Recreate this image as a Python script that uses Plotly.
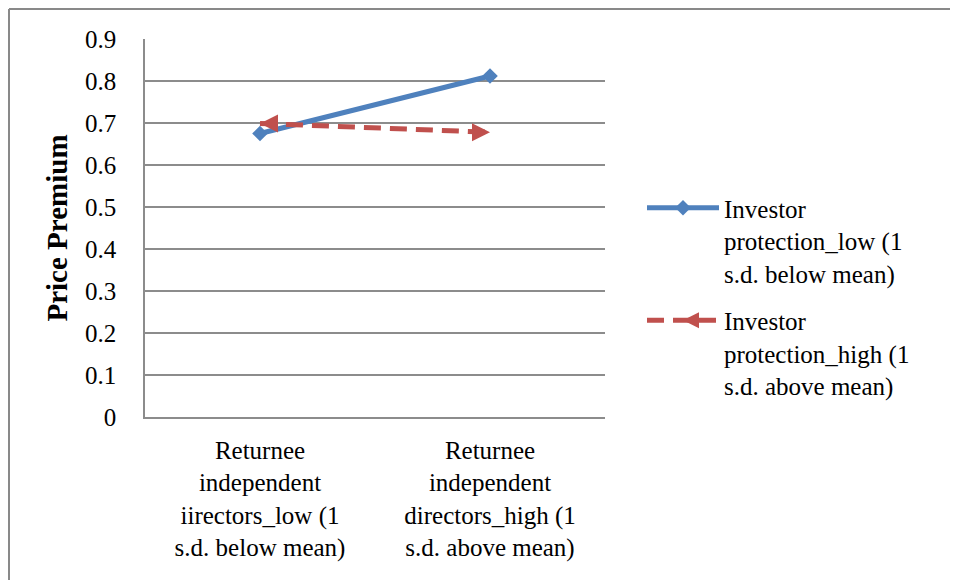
import plotly.graph_objects as go

categories = ["Returnee<br>independent<br>iirectors_low (1<br>s.d. below mean)",
              "Returnee<br>independent<br>directors_high (1<br>s.d. above mean)"]
low_values = [0.675, 0.812]
high_values = [0.699, 0.678]
series_names = ["Investor<br>protection_low (1<br>s.d. below mean)",
                "Investor<br>protection_high (1<br>s.d. above mean)"]
y_ticks = [0, 0.1, 0.2, 0.3, 0.4, 0.5, 0.6, 0.7, 0.8, 0.9]
y_tick_labels = ["0", "0.1", "0.2", "0.3", "0.4", "0.5", "0.6", "0.7", "0.8", "0.9"]

FONT = "Liberation Serif, Times New Roman, serif"
BLUE = "#4F81BD"
RED = "#C0504D"
GRID = "#8C8C8C"

fig = go.Figure()
fig.add_trace(go.Scatter(
    x=categories, y=low_values, name=series_names[0], mode="lines+markers",
    legendgroup="low",
    line=dict(color=BLUE, width=5),
    marker=dict(symbol="diamond", size=12, color=BLUE),
))
fig.add_trace(go.Scatter(
    x=categories, y=high_values, name=series_names[1], mode="lines+markers",
    legendgroup="high",
    line=dict(color=RED, width=5, dash="17px,9px"),
    marker=dict(symbol=["arrow-left", "arrow-right"], size=18, color=RED),
))

# the page body has an 8px margin; work in page pixels and convert
OFF = 8
W, H = 942, 572
L, T = 145 - OFF, 39 - OFF
pw, ph = 460, 378
R = W - L - pw
B = H - T - ph

def px(x):
    return (x - OFF - L) / pw

def py(y):
    return (T + ph - (y - OFF)) / ph

fig.update_layout(
    width=W, height=H,
    margin=dict(l=L, r=R, t=T, b=B, pad=0, autoexpand=False),
    paper_bgcolor="white", plot_bgcolor="white",
    font=dict(family=FONT, size=25, color="black"),
    showlegend=True,
    legend=dict(
        x=px(642), y=py(185), xanchor="left", yanchor="top",
        font=dict(family=FONT, size=25, color="black"),
        valign="top", itemwidth=72, tracegroupgap=12,
        bgcolor="rgba(0,0,0,0)",
    ),
    xaxis=dict(
        type="category", range=[-0.5, 1.5],
        showgrid=False, showline=True, linecolor=GRID, linewidth=1.5,
        ticks="", tickfont=dict(family=FONT, size=25),
        ticklabelstandoff=10,
    ),
    yaxis=dict(
        range=[0, 0.9], tickvals=y_ticks, ticktext=y_tick_labels,
        showgrid=True, gridcolor=GRID, gridwidth=1.5,
        showline=True, linecolor=GRID, linewidth=1.5,
        zeroline=False, ticks="", tickfont=dict(family=FONT, size=25),
        ticklabelstandoff=22,
        title=dict(text="<b>Price Premium</b>", font=dict(family=FONT, size=29),
                   standoff=9),
    ),
    shapes=[
        dict(type="line", xref="paper", yref="paper",
             x0=px(9), x1=px(9), y0=py(600), y1=py(9),
             line=dict(color="#898989", width=2), layer="below"),
        dict(type="line", xref="paper", yref="paper",
             x0=px(9), x1=px(958), y0=py(9), y1=py(9),
             line=dict(color="#898989", width=2), layer="below"),
    ],
)

fig.write_html("out.html")
